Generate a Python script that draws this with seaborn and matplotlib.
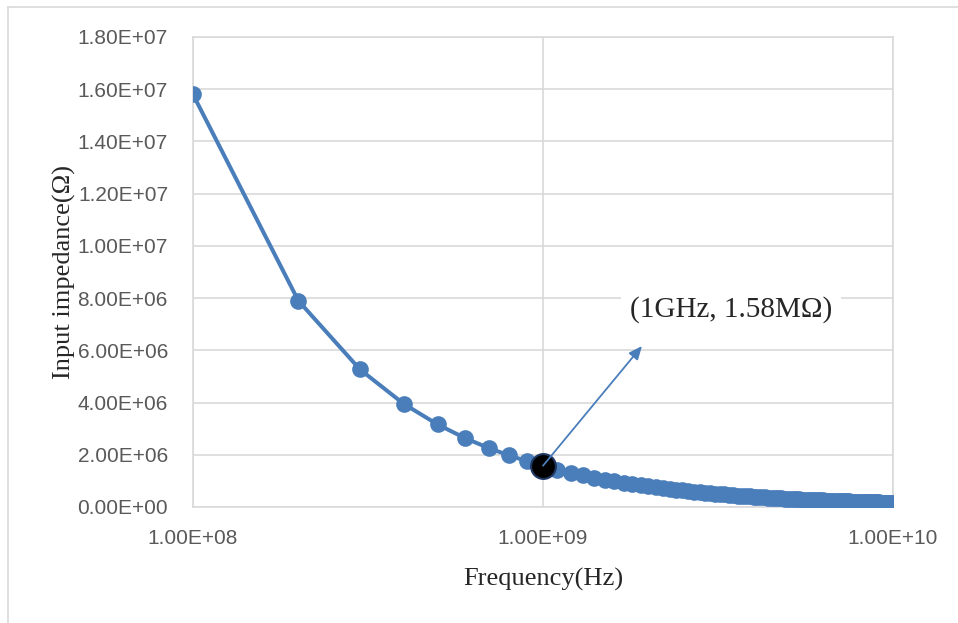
import numpy as np
import pandas as pd
import matplotlib
matplotlib.use('Agg')
import matplotlib.pyplot as plt
from matplotlib.lines import Line2D
from matplotlib.ticker import FuncFormatter, FixedLocator, NullLocator
import seaborn as sns

# frequency in units of 100 MHz (1 .. 100 -> 1e8 .. 1e10 Hz)
freq_step = [1, 2, 3, 4, 5, 6, 7, 8, 9, 10,
             11, 12, 13, 14, 15, 16, 17, 18, 19, 20,
             21, 22, 23, 24, 25, 26, 27, 28, 29, 30,
             31, 32, 33, 34, 35, 36, 37, 38, 39, 40,
             41, 42, 43, 44, 45, 46, 47, 48, 49, 50,
             51, 52, 53, 54, 55, 56, 57, 58, 59, 60,
             61, 62, 63, 64, 65, 66, 67, 68, 69, 70,
             71, 72, 73, 74, 75, 76, 77, 78, 79, 80,
             81, 82, 83, 84, 85, 86, 87, 88, 89, 90,
             91, 92, 93, 94, 95, 96, 97, 98, 99, 100]

# input impedance in MOhm
impedance_mohm = [15.8, 7.9, 5.267, 3.95, 3.16, 2.633, 2.257, 1.975, 1.756, 1.58,
                  1.436, 1.317, 1.215, 1.129, 1.053, 0.988, 0.929, 0.878, 0.832, 0.79,
                  0.752, 0.718, 0.687, 0.658, 0.632, 0.608, 0.585, 0.564, 0.545, 0.527,
                  0.510, 0.494, 0.479, 0.465, 0.451, 0.439, 0.427, 0.416, 0.405, 0.395,
                  0.385, 0.376, 0.367, 0.359, 0.351, 0.343, 0.336, 0.329, 0.322, 0.316,
                  0.310, 0.304, 0.298, 0.293, 0.287, 0.282, 0.277, 0.272, 0.268, 0.263,
                  0.259, 0.255, 0.251, 0.247, 0.243, 0.239, 0.236, 0.232, 0.229, 0.226,
                  0.223, 0.219, 0.216, 0.214, 0.211, 0.208, 0.205, 0.203, 0.200, 0.198,
                  0.195, 0.193, 0.190, 0.188, 0.186, 0.184, 0.182, 0.180, 0.178, 0.176,
                  0.174, 0.172, 0.170, 0.168, 0.166, 0.165, 0.163, 0.161, 0.160, 0.158]

x_ticks = [1e8, 1e9, 1e10]
y_ticks = [0, 2e6, 4e6, 6e6, 8e6, 1e7, 1.2e7, 1.4e7, 1.6e7, 1.8e7]
mark_freq = 1e9
mark_imp = 1.58e6
mark_text = '(1GHz, 1.58MΩ)'

df = pd.DataFrame({'freq': np.array(freq_step) * 1e8,
                   'imp': np.array(impedance_mohm) * 1e6})
mark = pd.DataFrame({'freq': [mark_freq], 'imp': [mark_imp]})

sns.set_style('white')
blue = '#4a7ebb'
grid = '#d9d9d9'

fig = plt.figure(figsize=(9.58, 6.23), dpi=100)
ax = fig.add_axes([193/958, 1 - 507/623, 700/958, 470/623])

sns.lineplot(data=df, x='freq', y='imp', ax=ax, color=blue, linewidth=2.9,
             marker='o', markersize=12, markeredgewidth=0, zorder=3)
sns.scatterplot(data=mark, x='freq', y='imp', ax=ax, color='black', s=320,
                edgecolor='#1f3864', linewidth=1.5, zorder=4)

ax.set_xscale('log')
ax.set_xlim(1e8, 1e10)
ax.set_ylim(0, 1.8e7)
ax.xaxis.set_major_locator(FixedLocator(x_ticks))
ax.xaxis.set_minor_locator(NullLocator())
ax.yaxis.set_major_locator(FixedLocator(y_ticks))
fmt = FuncFormatter(lambda v, p: f'{v:.2E}')
ax.xaxis.set_major_formatter(fmt)
ax.yaxis.set_major_formatter(fmt)
ax.tick_params(axis='both', length=0, labelsize=15, labelcolor='#595959')
ax.tick_params(axis='x', pad=16)
ax.tick_params(axis='y', pad=18)
for lab in ax.get_xticklabels() + ax.get_yticklabels():
    lab.set_fontfamily('Liberation Sans')
ax.grid(True, color=grid, linewidth=1.2)
for s in ax.spines.values():
    s.set_color(grid)
    s.set_linewidth(1.2)

ax.set_xlabel('Frequency(Hz)', fontfamily='Liberation Serif', fontsize=19, labelpad=14)
ax.set_ylabel('Input impedance(Ω)', fontfamily='Liberation Serif', fontsize=19, labelpad=1)

ax.annotate('', xy=(642, 623 - 346), xycoords='figure pixels',
            xytext=(mark_freq, mark_imp), textcoords='data',
            arrowprops=dict(arrowstyle='-|>,head_length=0.8,head_width=0.35',
                            color=blue, lw=1.3, shrinkA=0, shrinkB=0), zorder=5)
fig.text(731 / 958, 1 - 310 / 623, mark_text, fontfamily='Liberation Serif', fontsize=21,
         ha='center', va='center',
         bbox=dict(facecolor='white', edgecolor='none', pad=6))

fig.add_artist(Line2D([8 / 958, 1], [1 - 7 / 623, 1 - 7 / 623], color=grid, linewidth=1.2))
fig.add_artist(Line2D([8 / 958, 8 / 958], [0, 1 - 7 / 623], color=grid, linewidth=1.2))

fig.savefig('out.png', dpi=100)
